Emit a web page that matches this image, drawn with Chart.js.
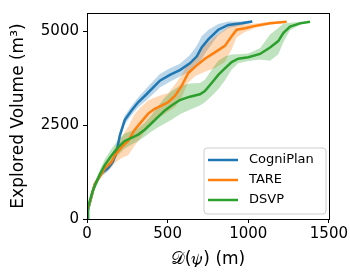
<!DOCTYPE html>
<html>
<head>
<meta charset="utf-8">
<script src="https://cdn.jsdelivr.net/npm/chart.js@4/dist/chart.umd.min.js"></script>
<style>
  html, body { margin: 0; padding: 0; background: #fff; }
  #wrap { width: 350px; height: 272px; }
</style>
</head>
<body>
<div id="wrap"><canvas id="volChart"></canvas></div>
<script>
// 凡例と系列
const seriesNames = ['CogniPlan', 'TARE', 'DSVP'];
const seriesColors = ['#1f77b4', '#ff7f0e', '#2ca02c'];

// 距離 D(ψ) (m)
const cogniX = [0, 6, 48, 89, 129, 160, 183, 203, 234, 276, 317, 369, 452, 514, 576, 638, 680, 711, 752, 814, 876, 959, 1025];
const tareX  = [0, 4, 48, 98, 110, 152, 172, 214, 255, 296, 338, 379, 420, 462, 503, 545, 586, 627, 669, 731, 793, 855, 897, 928, 980, 1042, 1135, 1238];
const dsvpX  = [0, 6, 35, 79, 110, 152, 193, 234, 276, 317, 358, 400, 441, 483, 524, 576, 638, 700, 731, 773, 814, 855, 897, 938, 1000, 1073, 1135, 1186, 1217, 1259, 1321, 1383];

// 探索体積の平均 (m^3)
const cogniY = [0, 232, 928, 1219, 1348, 1521, 1778, 2216, 2637, 2894, 3111, 3325, 3686, 3840, 3969, 4149, 4330, 4570, 4786, 5044, 5173, 5214, 5263];
const tareY  = [0, 232, 928, 1263, 1348, 1521, 1693, 1907, 2080, 2379, 2595, 2809, 2938, 3023, 3111, 3281, 3539, 3884, 4054, 4271, 4441, 4613, 4871, 5044, 5085, 5147, 5214, 5258];
const dsvpY  = [0, 317, 747, 1186, 1436, 1693, 1907, 2080, 2165, 2250, 2379, 2552, 2724, 2894, 3023, 3170, 3260, 3325, 3410, 3626, 3840, 4013, 4183, 4271, 4312, 4399, 4570, 4742, 4956, 5129, 5214, 5258];

// ばらつき（帯の半幅）
const cogniSd = [0, 30, 60, 80, 80, 90, 100, 110, 120, 120, 130, 160, 180, 180, 170, 220, 280, 300, 250, 150, 90, 50, 30];
const tareSd  = [0, 30, 60, 100, 120, 150, 200, 280, 380, 420, 400, 350, 300, 280, 250, 300, 300, 250, 250, 350, 420, 430, 350, 200, 100, 60, 40, 20];
const dsvpSd  = [0, 40, 80, 120, 150, 180, 200, 200, 180, 170, 180, 220, 280, 350, 380, 380, 350, 300, 300, 350, 380, 320, 200, 120, 100, 150, 350, 350, 250, 100, 40, 20];

// 目盛り
const xTicks = [0, 500, 1000, 1500];
const yTicks = [0, 2500, 5000];

const allX = [cogniX, tareX, dsvpX];
const allY = [cogniY, tareY, dsvpY];
const allSd = [cogniSd, tareSd, dsvpSd];

function pts(xs, ys) {
    return xs.map((x, i) => ({ x: x, y: ys[i] }));
}
function bandColor(hex) {
    const r = parseInt(hex.slice(1, 3), 16), g = parseInt(hex.slice(3, 5), 16), b = parseInt(hex.slice(5, 7), 16);
    return 'rgba(' + r + ',' + g + ',' + b + ',0.3)';
}

// 線（DSVPが一番上）
const datasets = [];
[2, 1, 0].forEach(function (k) {
    datasets.push({
        label: seriesNames[k],
        data: pts(allX[k], allY[k]),
        borderColor: seriesColors[k],
        borderWidth: 2.5,
        pointRadius: 0,
        fill: false
    });
});
// 帯
[2, 1, 0].forEach(function (k) {
    const lo = allY[k].map((v, i) => v - allSd[k][i]);
    const hi = allY[k].map((v, i) => v + allSd[k][i]);
    const loIndex = datasets.length;
    datasets.push({ label: '', data: pts(allX[k], lo), borderWidth: 0, pointRadius: 0, fill: false });
    datasets.push({ label: '', data: pts(allX[k], hi), borderWidth: 0, pointRadius: 0,
        backgroundColor: bandColor(seriesColors[k]), fill: loIndex });
});

// 枠と凡例
const framePlugin = {
    id: 'frame',
    afterDraw(chart) {
        const ctx = chart.ctx, a = chart.chartArea;
        ctx.save();
        ctx.strokeStyle = '#000';
        ctx.lineWidth = 1;
        ctx.strokeRect(Math.round(a.left) + 0.5, Math.round(a.top) + 0.5,
            Math.round(a.right - a.left), Math.round(a.bottom - a.top));

        // 凡例
        const bx = 204, by = 148, bw = 122, bh = 66, r = 3;
        ctx.beginPath();
        ctx.moveTo(bx + r, by);
        ctx.arcTo(bx + bw, by, bx + bw, by + bh, r);
        ctx.arcTo(bx + bw, by + bh, bx, by + bh, r);
        ctx.arcTo(bx, by + bh, bx, by, r);
        ctx.arcTo(bx, by, bx + bw, by, r);
        ctx.closePath();
        ctx.fillStyle = 'rgba(255,255,255,0.8)';
        ctx.fill();
        ctx.strokeStyle = '#cccccc';
        ctx.stroke();
        ctx.font = '13px "DejaVu Sans"';
        ctx.textBaseline = 'middle';
        seriesNames.forEach(function (name, i) {
            const y = by + 12 + i * 20;
            ctx.beginPath();
            ctx.moveTo(bx + 4, y);
            ctx.lineTo(bx + 34, y);
            ctx.strokeStyle = seriesColors[i];
            ctx.lineWidth = 2.5;
            ctx.stroke();
            ctx.fillStyle = '#000';
            ctx.fillText(name, bx + 45, y);
        });
        ctx.restore();
    }
};

const ctx = document.getElementById('volChart').getContext('2d');
const volChart = new Chart(ctx, {
    type: 'line',
    data: { datasets: datasets },
    options: {
        responsive: true,
        maintainAspectRatio: false,
        animation: false,
        layout: { padding: { left: 0, right: 21, top: 6, bottom: 0 } },
        plugins: {
            legend: { display: false },
            tooltip: { enabled: false }
        },
        scales: {
            x: {
                type: 'linear',
                min: 0, max: 1500,
                afterBuildTicks: function (s) { s.ticks = xTicks.map(v => ({ value: v })); },
                afterFit: function (s) { s.height = 53; },
                grid: { drawOnChartArea: false, drawTicks: true, tickLength: 4, color: '#000' },
                border: { color: '#000', width: 1 },
                ticks: { color: '#000', font: { family: 'DejaVu Sans', size: 15 }, padding: 2, maxRotation: 0,
                    callback: v => String(v) },
                title: { display: true, text: '𝒟(𝜓) (m)', color: '#000',
                    font: { family: 'DejaVu Sans', size: 17 }, padding: { top: 0, bottom: 2 } }
            },
            y: {
                min: 0, max: 5490,
                afterBuildTicks: function (s) { s.ticks = yTicks.map(v => ({ value: v })); },
                afterFit: function (s) { s.width = 87; },
                grid: { drawOnChartArea: false, drawTicks: true, tickLength: 4, color: '#000' },
                border: { color: '#000', width: 1 },
                ticks: { color: '#000', font: { family: 'DejaVu Sans', size: 15 }, padding: 4,
                    callback: v => String(v) },
                title: { display: true, text: 'Explored Volume (m³)', color: '#000',
                    font: { family: 'DejaVu Sans', size: 17 }, padding: { top: 8, bottom: 0 } }
            }
        }
    },
    plugins: [framePlugin]
});
</script>
</body>
</html>
